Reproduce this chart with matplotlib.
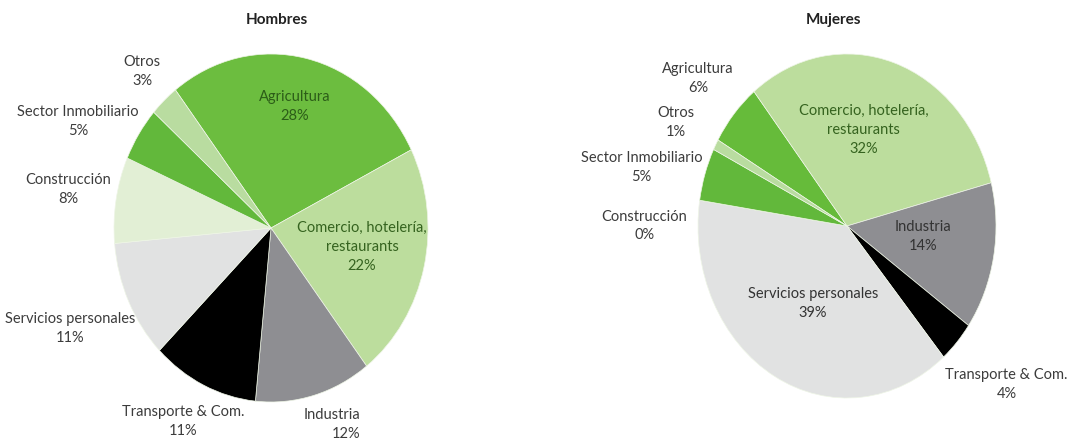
import matplotlib.pyplot as plt

plt.rcParams['font.family'] = ['Lato', 'DejaVu Sans']

sectores = ['Agricultura', 'Comercio, hotelería,\nrestaurants', 'Industria', 'Transporte & Com.',
            'Servicios personales', 'Construcción', 'Sector Inmobiliario', 'Otros']
hombres = [28, 22, 12, 11, 11, 8, 5, 3]
mujeres = [6, 32, 14, 4, 39, 0, 5, 1]

colores_h = ['#6cbd3f', '#bcdd9d', '#8e8e92', '#000000', '#e1e2e2', '#e2efd5', '#62b83b', '#b9dca0']
colores_m = ['#66bb3a', '#bcdd9d', '#8e8e92', '#000000', '#e1e2e2', '#e2efd5', '#62b83b', '#b9dca0']

W, H = 1092, 441
fig = plt.figure(figsize=(W / 100, H / 100), dpi=100)


def make_ax(cx, cy, rx, ry, xl, yl):
    # cx, cy, rx, ry in pixels (y from top)
    left = (cx - xl * rx) / W
    width = 2 * xl * rx / W
    bottom = (H - cy - yl * ry) / H
    height = 2 * yl * ry / H
    ax = fig.add_axes([left, bottom, width, height])
    return ax


def pie(ax, vals, cols, start, xl, yl):
    ax.pie(vals, colors=cols, startangle=start, counterclock=False, radius=1,
           wedgeprops=dict(linewidth=0.5, edgecolor='#eef5e6'))
    ax.set_aspect('auto')
    ax.set_xlim(-xl, xl)
    ax.set_ylim(-yl, yl)
    ax.axis('off')


txt = '#3c3c3c'
fs = 10.5
ls = 1.45

# Hombres
ax1 = make_ax(271, 228, 157, 174, 1.7, 1.25)
pie(ax1, hombres, colores_h, 127.5, 1.7, 1.25)
ax1.text(0.04, 1.195, 'Hombres', ha='center', va='center', fontsize=11, fontweight='bold', color='#222222')
lab_h = [(0.15, 0.70, '#2c5d18', 'center'), (0.58, -0.11, '#35631f', 'center'),
         (0.39, -1.13, txt, 'right'), (-0.56, -1.11, txt, 'center'),
         (-1.28, -0.58, txt, 'center'), (-1.29, 0.22, txt, 'center'),
         (-1.23, 0.61, txt, 'center'), (-0.82, 0.90, txt, 'center')]
for s, v, (x, y, c, ma) in zip(sectores, hombres, lab_h):
    ax1.text(x, y, f'{s}\n{v}%', ha='center', va='center', fontsize=fs, color=c,
             multialignment=ma, linespacing=ls, clip_on=False)

# Mujeres
ax2 = make_ax(847, 226, 149, 172, 1.65, 1.25)
pie(ax2, mujeres, colores_m, 150, 1.65, 1.25)
ax2.text(-0.09, 1.195, 'Mujeres', ha='center', va='center', fontsize=11, fontweight='bold', color='#222222')
lab_m = [(-1.0, 0.86, txt), (0.11, 0.56, '#35631f'), (0.51, -0.06, '#333333'),
         (1.07, -0.92, txt), (-0.23, -0.45, '#333333'), (-1.36, 0.0, txt),
         (-1.38, 0.34, txt), (-1.15, 0.60, txt)]
for s, v, (x, y, c) in zip(sectores, mujeres, lab_m):
    ax2.text(x, y, f'{s}\n{v}%', ha='center', va='center', fontsize=fs, color=c,
             linespacing=ls, clip_on=False)

fig.savefig('out.png', dpi=100, facecolor='white')
